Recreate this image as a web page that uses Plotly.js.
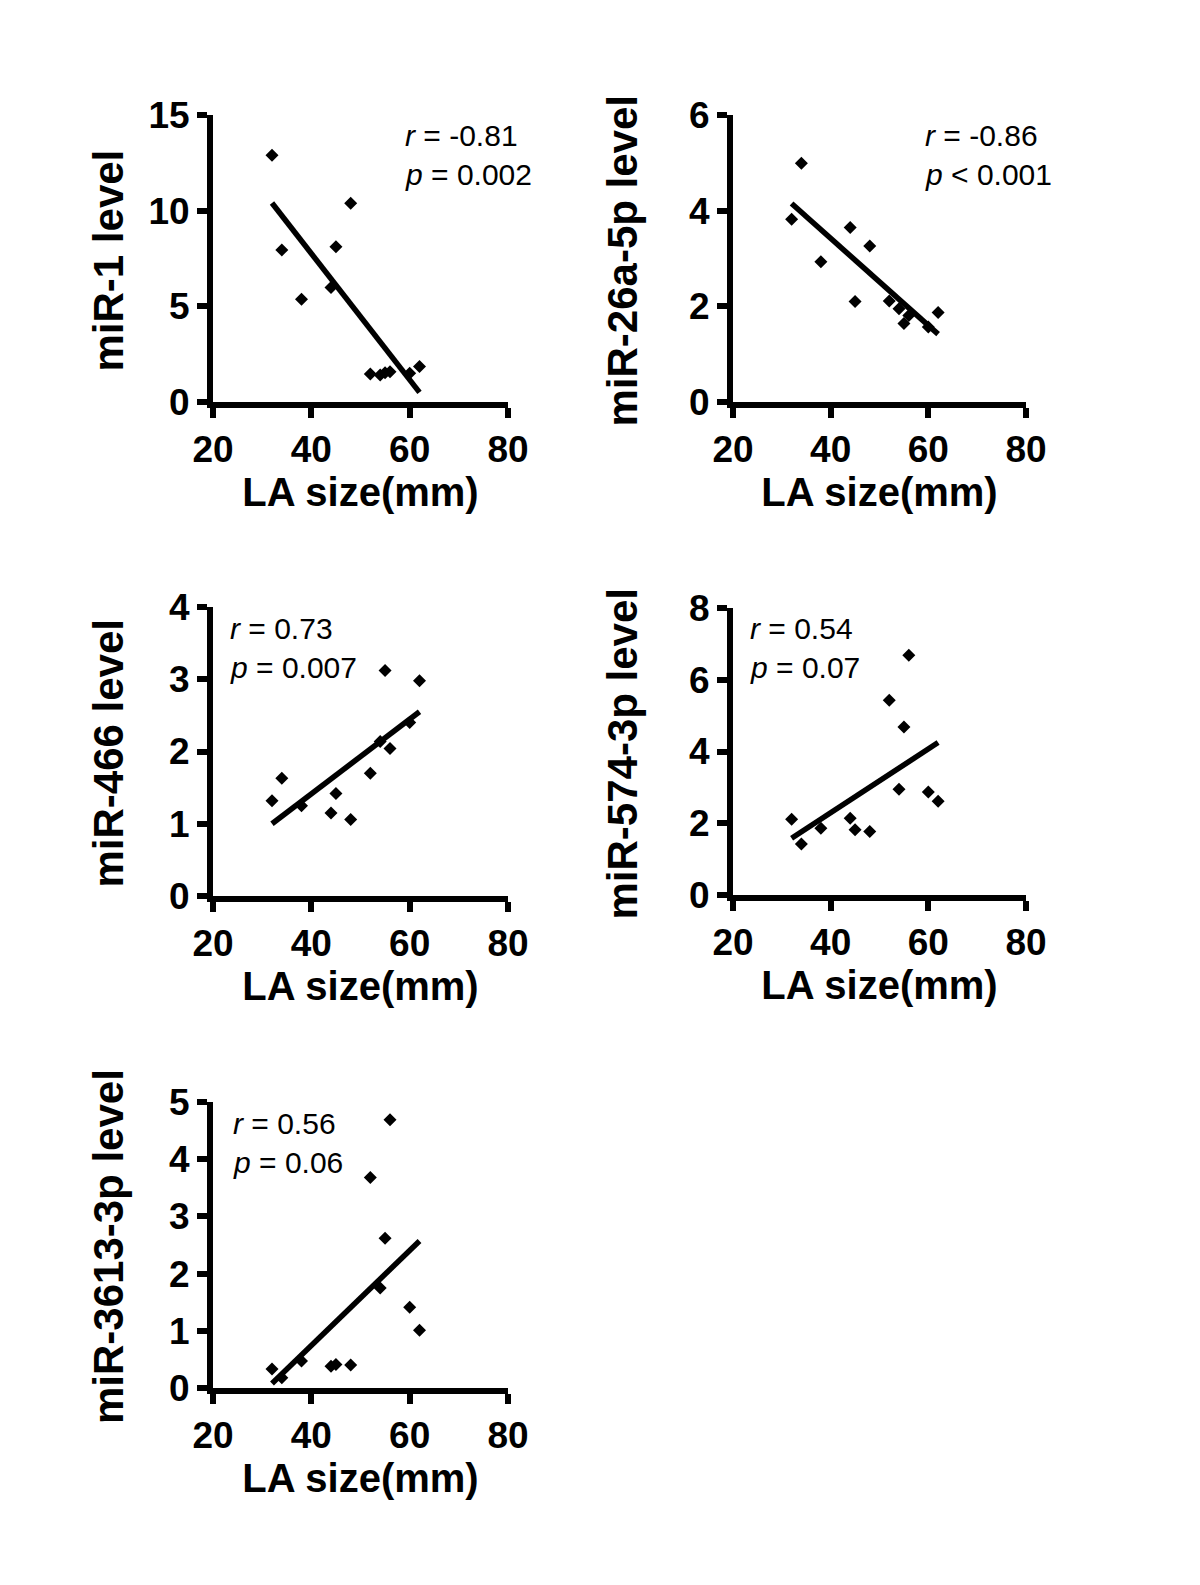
<!DOCTYPE html>
<html>
<head>
<meta charset="utf-8">
<script src="https://cdn.plot.ly/plotly-3.0.1.min.js"></script>
<style>
  body { margin: 0; background: #fff; }
  #chart { width: 1200px; height: 1585px; }
</style>
</head>
<body>
<div id="chart"></div>
<script>
// LA size (mm) shared by all five panels
const laSize = [32, 34, 38, 44, 45, 48, 52, 54, 55, 56, 60, 62];

const mir1     = [12.9, 7.95, 5.37, 5.98, 8.12, 10.39, 1.46, 1.41, 1.53, 1.58, 1.50, 1.85];
const mir26a   = [3.82, 4.99, 2.93, 3.65, 2.10, 3.26, 2.11, 1.95, 1.64, 1.81, 1.57, 1.87];
const mir466   = [1.32, 1.63, 1.25, 1.15, 1.42, 1.06, 1.70, 2.14, 3.12, 2.04, 2.40, 2.98];
const mir574   = [2.11, 1.42, 1.86, 2.14, 1.82, 1.77, 5.43, 2.95, 4.68, 6.68, 2.87, 2.61];
const mir3613  = [0.33, 0.18, 0.47, 0.38, 0.41, 0.40, 3.68, 1.75, 2.62, 4.69, 1.41, 1.01];

// regression line ends, read at x = 32 and x = 62
const fitX = [32, 62];
const fit1    = [10.4, 0.5];
const fit26a  = [4.15, 1.42];
const fit466  = [1.0, 2.55];
const fit574  = [1.58, 4.25];
const fit3613 = [0.08, 2.57];

const yTitles = ['miR-1 level', 'miR-26a-5p level', 'miR-466 level', 'miR-574-3p level', 'miR-3613-3p level'];
const rTexts = ['-0.81', '-0.86', '0.73', '0.54', '0.56'];
const pTexts = ['= 0.002', '< 0.001', '= 0.007', '= 0.07', '= 0.06'];
const yMax = [15, 6, 4, 8, 5];
const yStep = [5, 2, 1, 2, 1];

const W = 1200, H = 1585;
const FONT = 'Arial, "Liberation Sans", sans-serif';

// plot boxes in page pixels [left, right, top, bottom]
const boxes = [
    [213, 508, 115, 402],
    [733, 1026, 115, 402],
    [213, 508, 607, 896],
    [733, 1026, 608, 895],
    [213, 508, 1102, 1388]
];
// stats text: left x, centre y of first and second line
const statPos = [
    [403, 135, 175],
    [923, 135, 175],
    [228, 628, 667],
    [748, 629, 668],
    [231, 1123, 1162]
];
// y title centre x for each panel
const yTitleX = [108, 622, 108, 622, 108];

const series = [mir1, mir26a, mir466, mir574, mir3613];
const fits = [fit1, fit26a, fit466, fit574, fit3613];

const data = [];
const layout = {
    width: W, height: H,
    margin: { l: 0, r: 0, t: 0, b: 0 },
    paper_bgcolor: '#fff',
    plot_bgcolor: '#fff',
    showlegend: false,
    font: { family: FONT, color: '#000' },
    annotations: []
};

series.forEach((ys, i) => {
    const n = i === 0 ? '' : String(i + 1);
    data.push({
        x: laSize, y: ys, xaxis: 'x' + n, yaxis: 'y' + n,
        type: 'scatter', mode: 'markers',
        marker: { symbol: 'diamond', size: 10, color: '#000' },
        cliponaxis: false
    });
    data.push({
        x: fitX, y: fits[i], xaxis: 'x' + n, yaxis: 'y' + n,
        type: 'scatter', mode: 'lines',
        line: { color: '#000', width: 5.5 },
        cliponaxis: false
    });

    const b = boxes[i];
    const common = {
        showline: true, linecolor: '#000', linewidth: 6,
        ticks: 'outside', ticklen: 10, tickwidth: 6, tickcolor: '#000',
        showgrid: false, zeroline: false, fixedrange: true,
        tickfont: { family: FONT, size: 37, weight: 'bold', color: '#000' }
    };
    layout['xaxis' + n] = Object.assign({}, common, {
        domain: [b[0] / W, b[1] / W],
        anchor: 'y' + n,
        range: [20, 80],
        tickvals: [20, 40, 60, 80],
        title: { text: 'LA size(mm)', standoff: 6, font: { family: FONT, size: 40, weight: 'bold', color: '#000' } }
    });
    const yt = [];
    for (let v = 0; v <= yMax[i]; v += yStep[i]) yt.push(v);
    layout['yaxis' + n] = Object.assign({}, common, {
        domain: [1 - b[3] / H, 1 - b[2] / H],
        anchor: 'x' + n,
        range: [0, yMax[i]],
        tickvals: yt
    });

    // y axis title
    layout.annotations.push({
        xref: 'paper', yref: 'paper', x: yTitleX[i] / W, y: 1 - ((b[2] + b[3]) / 2 + 2) / H,
        xanchor: 'center', yanchor: 'middle', showarrow: false, textangle: -90,
        text: yTitles[i],
        font: { family: FONT, size: 42, weight: 'bold', color: '#000' }
    });

    const s = statPos[i];
    layout.annotations.push({
        xref: 'paper', yref: 'paper', x: s[0] / W, y: 1 - s[1] / H,
        xanchor: 'left', yanchor: 'middle', showarrow: false,
        text: '<i>r</i> = ' + rTexts[i],
        font: { family: FONT, size: 30, color: '#000' }
    });
    layout.annotations.push({
        xref: 'paper', yref: 'paper', x: s[0] / W, y: 1 - s[2] / H,
        xanchor: 'left', yanchor: 'middle', showarrow: false,
        text: '<i>p</i> ' + pTexts[i],
        font: { family: FONT, size: 30, color: '#000' }
    });
});

Plotly.newPlot('chart', data, layout, { staticPlot: true });
</script>
</body>
</html>
